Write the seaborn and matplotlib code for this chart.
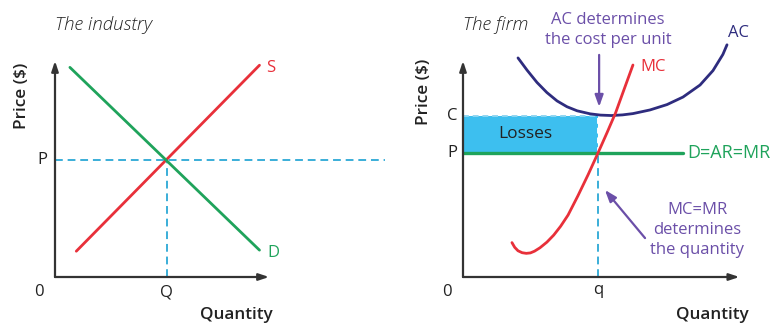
import numpy as np
import pandas as pd
import matplotlib.pyplot as plt
import seaborn as sns

# ---- The industry (left panel) ----
supply_q = [1.0, 9.6]
supply_p = [1.2, 9.85]
demand_q = [0.7, 9.6]
demand_p = [9.75, 1.25]
eq_q = 5.25
eq_p = 5.43

# ---- The firm (right panel) ----
ac_q = [2.00, 2.33, 2.69, 3.05, 3.42, 3.78, 4.15, 4.62, 5.00, 5.40, 5.80,
        6.18, 6.80, 7.42, 8.00, 8.62, 9.09, 9.45, 9.60]
ac_c = [10.19, 9.62, 9.05, 8.58, 8.19, 7.92, 7.73, 7.59, 7.53, 7.51, 7.54,
        7.60, 7.77, 8.02, 8.37, 8.93, 9.60, 10.35, 10.80]
mc_q = [1.78, 1.88, 2.00, 2.15, 2.30, 2.45, 2.60, 2.80, 3.05, 3.30, 3.55,
        3.82, 4.18, 4.55, 4.91, 5.24, 5.55, 5.85, 6.18]
mc_c = [1.60, 1.38, 1.22, 1.13, 1.10, 1.12, 1.20, 1.36, 1.62, 1.95, 2.36,
        2.88, 3.78, 4.76, 5.77, 6.72, 7.64, 8.70, 9.86]
firm_p = 5.77
firm_c = 7.5
firm_q = 4.91
mr_end = 8.0

RED = '#E8303A'
GREEN = '#1FA35B'
DASH = '#3AAED8'
FILL = '#3DBFEF'
PURPLE = '#6B4FA8'
NAVY = '#2E2C7E'
AXIS = '#333333'
TXT = '#222222'

sns.set_style('white')
plt.rcParams['font.family'] = ['Open Sans', 'DejaVu Sans']

fig = plt.figure(figsize=(7.75, 3.25), dpi=100)
ax1 = fig.add_axes([55 / 775, 48 / 325, 213 / 775, 215 / 325])
ax2 = fig.add_axes([463 / 775, 48 / 325, 275 / 775, 215 / 325])

for ax in (ax1, ax2):
    ax.set_xlim(0, 10)
    ax.set_ylim(0, 10)
    ax.set_xticks([])
    ax.set_yticks([])
    for s in ax.spines.values():
        s.set_visible(False)
    ax.patch.set_alpha(0)
    # axis arrows
    ax.annotate('', xy=(10.05, 0), xytext=(0, 0), annotation_clip=False,
                arrowprops=dict(arrowstyle='-|>,head_length=0.6,head_width=0.2',
                                color=AXIS, lw=1.6, shrinkA=0, shrinkB=0))
    ax.annotate('', xy=(0, 10.05), xytext=(0, 0), annotation_clip=False,
                arrowprops=dict(arrowstyle='-|>,head_length=0.6,head_width=0.2',
                                color=AXIS, lw=1.6, shrinkA=0, shrinkB=0))

lab = dict(fontsize=12.3, fontweight='semibold', color=TXT, ha='center', va='center')
tick = dict(fontsize=12, ha='center', va='center')
title = dict(fontsize=13.5, style='italic', fontweight='light', color=TXT,
             ha='left', va='center')

# ---------------- left panel ----------------
ax1.plot([0, 15.5], [eq_p, eq_p], color=DASH, lw=1.4, dashes=(4, 2.5), clip_on=False)
ax1.plot([eq_q, eq_q], [0, eq_p], color=DASH, lw=1.4, dashes=(4, 2.5))
sns.lineplot(x=supply_q, y=supply_p, ax=ax1, color=RED, lw=2, sort=False, estimator=None)
sns.lineplot(x=demand_q, y=demand_p, ax=ax1, color=GREEN, lw=2, sort=False, estimator=None)

ax1.text(10.14, 9.72, 'S', color=RED, **tick)
ax1.text(10.23, 1.12, 'D', color=GREEN, **tick)
ax1.text(-0.61, eq_p, 'P', color=TXT, **tick)
ax1.text(-0.75, -0.7, '0', color=TXT, **tick)
ax1.text(eq_q, -0.7, 'Q', color=TXT, **tick)
ax1.text(8.5, -1.78, 'Quantity', **lab)
ax1.text(-1.55, 8.42, 'Price ($)', rotation=90, **lab)
ax1.text(0, 11.72, 'The industry', **title)

# ---------------- right panel ----------------
ax2.fill_between([0, firm_q], firm_p, firm_c, color=FILL, lw=0)
ax2.plot([0, firm_q], [firm_c, firm_c], color='#8FD6F2', lw=1.4, dashes=(3, 2))
ax2.plot([firm_q, firm_q], [firm_p, firm_c], color='white', lw=1.4, dashes=(3, 2))
ax2.plot([firm_q, firm_q], [0, firm_p], color=DASH, lw=1.4, dashes=(4, 2.5))
sns.lineplot(x=[0, mr_end], y=[firm_p, firm_p], ax=ax2, color=GREEN, lw=2.4,
             sort=False, estimator=None)
sns.lineplot(x=ac_q, y=ac_c, ax=ax2, color=NAVY, lw=2, sort=False, estimator=None)
ax2.lines[-1].set_clip_on(False)
ax2.lines[-1].set_solid_joinstyle('round')
sns.lineplot(x=mc_q, y=mc_c, ax=ax2, color=RED, lw=2, sort=False, estimator=None)
ax2.lines[-1].set_solid_joinstyle('round')

ax2.text(6.44, 9.77, 'MC', color=RED, fontsize=12, ha='left', va='center')
ax2.text(9.64, 11.35, 'AC', color=NAVY, fontsize=12, ha='left', va='center')
ax2.text(8.15, firm_p, 'D=AR=MR', color=GREEN, fontsize=13, ha='left', va='center')
ax2.text(2.25, 6.65, 'Losses', color=TXT, fontsize=12.5, ha='center', va='center')
ax2.text(-0.4, firm_c, 'C', color=TXT, **tick)
ax2.text(-0.4, firm_p, 'P', color=TXT, **tick)
ax2.text(-0.58, -0.7, '0', color=TXT, **tick)
ax2.text(firm_q, -0.62, 'q', color=TXT, **tick)
ax2.text(9.05, -1.78, 'Quantity', **lab)
ax2.text(-1.42, 8.6, 'Price ($)', rotation=90, **lab)
ax2.text(0, 11.72, 'The firm', **title)

ax2.text(5.27, 11.49, 'AC determines\nthe cost per unit', color=PURPLE, fontsize=12,
         ha='center', va='center', linespacing=1.4)
ax2.annotate('', xy=(4.95, 7.91), xytext=(4.95, 10.33), annotation_clip=False,
             arrowprops=dict(arrowstyle='-|>,head_length=0.7,head_width=0.25',
                             color=PURPLE, lw=1.6, shrinkA=0, shrinkB=0))
ax2.text(8.51, 2.19, 'MC=MR\ndetermines\nthe quantity', color=PURPLE, fontsize=12,
         ha='center', va='center', linespacing=1.35)
ax2.annotate('', xy=(5.16, 4.05), xytext=(6.62, 1.81), annotation_clip=False,
             arrowprops=dict(arrowstyle='-|>,head_length=0.7,head_width=0.25',
                             color=PURPLE, lw=1.6, shrinkA=0, shrinkB=0))

fig.savefig('out.png', dpi=100)
